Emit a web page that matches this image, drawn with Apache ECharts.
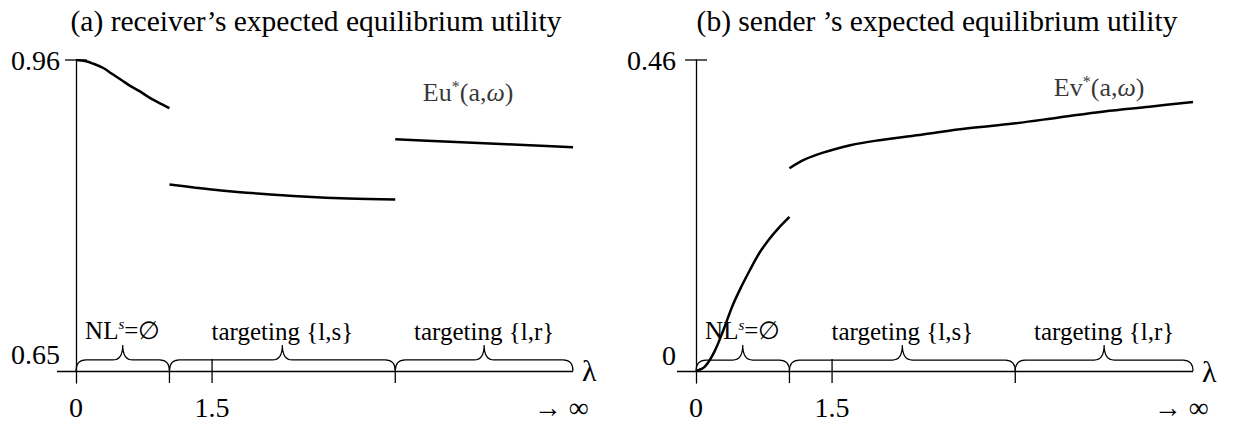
<!DOCTYPE html>
<html>
<head>
<meta charset="utf-8">
<script src="https://cdn.jsdelivr.net/npm/echarts@6/dist/echarts.min.js"></script>
<style>
  html, body { margin: 0; padding: 0; background: #fff; }
  #main { width: 1233px; height: 423px; }
</style>
</head>
<body>
<div id="main"></div>
<script>
// 数据（λ 轴为示意刻度，末端表示 → ∞）
const lambdaLabels = [0, 1.5, 5.35]
const regimeBounds = [0, 1.03, 3.52, 5.48]
const regimeNames = ['NL{sup|s}=∅', 'targeting {l,s}', 'targeting {l,r}']

// (a) receiver
const recvYTicks = [0.65, 0.96]
const recvX1 = [0, 0.1, 0.2, 0.3, 0.4, 0.5, 0.6, 0.7, 0.8, 0.9, 1.03]
const recvY1 = [0.96, 0.959, 0.956, 0.952, 0.946, 0.94, 0.934, 0.929, 0.923, 0.918, 0.912]
const recvX2 = [1.03, 1.3, 1.6, 2.0, 2.5, 3.0, 3.52]
const recvY2 = [0.836, 0.833, 0.83, 0.827, 0.824, 0.822, 0.821]
const recvX3 = [3.52, 4.0, 4.5, 5.0, 5.48]
const recvY3 = [0.881, 0.879, 0.877, 0.875, 0.873]

// (b) sender
const sendYTicks = [0, 0.46]
const sendX1 = [0, 0.1, 0.2, 0.3, 0.4, 0.5, 0.6, 0.7, 0.8, 0.9, 1.03]
const sendY1 = [0, 0.007, 0.028, 0.06, 0.096, 0.125, 0.151, 0.175, 0.194, 0.21, 0.228]
const sendX2 = [1.03, 1.2, 1.4, 1.7, 2.0, 2.5, 3.0, 3.5, 4.0, 4.5, 5.0, 5.48]
const sendY2 = [0.3, 0.313, 0.323, 0.334, 0.341, 0.35, 0.359, 0.366, 0.375, 0.384, 0.391, 0.398]

const FONT = '"Liberation Serif", "Times New Roman", "DejaVu Serif", serif'
const black = '#000'

const zip = (xs, ys) => xs.map((x, i) => [x, ys[i]])

const lineSeries = (idx, xs, ys) => ({
	type: 'line',
	xAxisIndex: idx,
	yAxisIndex: idx,
	data: zip(xs, ys),
	showSymbol: false,
	smooth: 0.35,
	lineStyle: { color: black, width: 2.5 },
	silent: true,
	z: 5
})

// 坐标轴十字刻度
const renderTick = (params, api) => {
	const p = api.coord([api.value(0), api.value(1)])
	const k = api.value(2)
	let shape
	if (k === 0) shape = { x1: p[0] - 11, y1: p[1], x2: p[0] + 11, y2: p[1] }
	else if (k === 1) shape = { x1: p[0], y1: p[1] - 12, x2: p[0], y2: p[1] + 12 }
	else shape = { x1: p[0], y1: p[1], x2: p[0], y2: p[1] + 12 }
	return { type: 'line', shape, style: { stroke: black, lineWidth: 1.3 } }
}

// 花括号 + 文字
const renderBrace = (params, api) => {
	const a = api.coord([api.value(0), api.value(2)])
	const b = api.coord([api.value(1), api.value(2)])
	const name = regimeNames[api.value(3)]
	const y0 = a[1], x0 = a[0], x1 = b[0], xm = (x0 + x1) / 2
	const h = 11, q = 10, t = 15
	const yb = y0 - h, tip = yb - t
	const d = `M${x0} ${y0} Q${x0} ${yb} ${x0 + q} ${yb} L${xm - q} ${yb} Q${xm} ${yb} ${xm} ${tip} ` +
		`Q${xm} ${yb} ${xm + q} ${yb} L${x1 - q} ${yb} Q${x1} ${yb} ${x1} ${y0}`
	return {
		type: 'group',
		children: [
			{ type: 'path', shape: { pathData: d }, style: { stroke: black, fill: null, lineWidth: 1.2 } },
			{
				type: 'text',
				x: xm,
				y: tip - 1,
				style: {
					text: name,
					fill: black,
					font: '25px ' + FONT,
					align: 'center',
					verticalAlign: 'bottom',
					rich: {
						sup: { fontSize: 15, fontStyle: 'italic', fontFamily: FONT, padding: [0, 0, 12, 0] }
					}
				}
			}
		]
	}
}

const braceData = (base) => regimeNames.map((n, i) => [regimeBounds[i], regimeBounds[i + 1], base, i])

const tickData = (yTicks) => [
	[0, yTicks[1], 0],
	[1.5, yTicks[0], 1],
	[regimeBounds[1], yTicks[0], 2],
	[regimeBounds[2], yTicks[0], 2]
]

// y 轴标签以 grid 左边界为基准，所以 margin 可能为负
const axisSet = (idx, yTicks, yMin, margin) => ({
	x: {
		gridIndex: idx, type: 'value', min: -0.21, max: 5.48,
		axisLine: { show: false }, axisTick: { show: false }, splitLine: { show: false },
		axisLabel: {
			customValues: lambdaLabels,
			margin: 10,
			color: black, fontFamily: FONT, fontSize: 28,
			formatter: v => (v === 0 ? '0' : v === 1.5 ? '1.5' : '→ ∞')
		}
	},
	y: {
		gridIndex: idx, type: 'value', min: yMin, max: yTicks[1],
		axisLine: { show: true, onZero: true, lineStyle: { color: black, width: 1.3 } },
		axisTick: { show: false }, splitLine: { show: false },
		axisLabel: {
			customValues: yTicks,
			margin: margin,
			color: black, fontFamily: FONT, fontSize: 28,
			formatter: v => (Math.abs(v - yTicks[0]) < 1e-6 ? '{lo|' + yTicks[0] + '}' : String(yTicks[1])),
			rich: { lo: { fontFamily: FONT, fontSize: 28, color: black, padding: [0, 0, 32, 0] } }
		}
	}
})

const A = axisSet(0, recvYTicks, 0.638, -3)
const B = axisSet(1, sendYTicks, -0.0176, 1)

const xLine = (idx, base) => ({
	type: 'line',
	xAxisIndex: idx, yAxisIndex: idx,
	data: [],
	markLine: {
		silent: true, symbol: 'none', animation: false,
		lineStyle: { color: black, width: 1.3, type: 'solid' },
		label: { show: true, position: 'end', formatter: 'λ', color: black, fontFamily: FONT, fontSize: 30, distance: 9 },
		data: [{ yAxis: base }]
	}
})

const curveLabel = (idx, pt, text, offset) => ({
	type: 'scatter',
	xAxisIndex: idx, yAxisIndex: idx,
	symbolSize: 0,
	data: [pt],
	silent: true,
	label: {
		show: true, position: 'inside', offset: offset,
		formatter: text,
		color: black, fontFamily: FONT, fontSize: 26,
		rich: {
			sup: { fontFamily: FONT, fontSize: 16, padding: [0, 0, 12, 0], color: black },
			it: { fontFamily: FONT, fontSize: 26, fontStyle: 'italic', color: black }
		}
	}
})

const titleStyle = { fontFamily: FONT, fontSize: 29.5, fontWeight: 'normal', color: black }

const option = {
	animation: false,
	backgroundColor: '#fff',
	title: [
		{ text: '(a) receiver’s expected equilibrium utility', left: 311, top: 1, textAlign: 'center', textStyle: titleStyle },
		{ text: '(b) sender ’s expected equilibrium utility', left: 932, top: 1, textAlign: 'center', textStyle: titleStyle }
	],
	grid: [
		{ left: 57, right: 660, top: 60, bottom: 40, outerBoundsMode: 'none', containLabel: false },
		{ left: 677, right: 40, top: 60, bottom: 40, outerBoundsMode: 'none', containLabel: false }
	],
	xAxis: [A.x, B.x],
	yAxis: [A.y, B.y],
	series: [
		lineSeries(0, recvX1, recvY1),
		lineSeries(0, recvX2, recvY2),
		lineSeries(0, recvX3, recvY3),
		lineSeries(1, sendX1, sendY1),
		lineSeries(1, sendX2, sendY2),
		xLine(0, recvYTicks[0]),
		xLine(1, sendYTicks[0]),
		{ type: 'custom', xAxisIndex: 0, yAxisIndex: 0, renderItem: renderTick, data: tickData(recvYTicks), silent: true },
		{ type: 'custom', xAxisIndex: 1, yAxisIndex: 1, renderItem: renderTick, data: tickData(sendYTicks), silent: true },
		{ type: 'custom', xAxisIndex: 0, yAxisIndex: 0, renderItem: renderBrace, data: braceData(recvYTicks[0]), silent: true, clip: false },
		{ type: 'custom', xAxisIndex: 1, yAxisIndex: 1, renderItem: renderBrace, data: braceData(sendYTicks[0]), silent: true, clip: false },
		curveLabel(0, [recvX3[2], recvY3[2]], 'Eu{sup|*}(a,{it|ω})', [-16, -51]),
		curveLabel(1, [sendX2[9], sendY2[9]], 'Ev{sup|*}(a,{it|ω})', [-5, -24])
	]
}

const myChart = echarts.init(document.getElementById('main'), null, { renderer: 'svg' })
myChart.setOption(option)
</script>
</body>
</html>
